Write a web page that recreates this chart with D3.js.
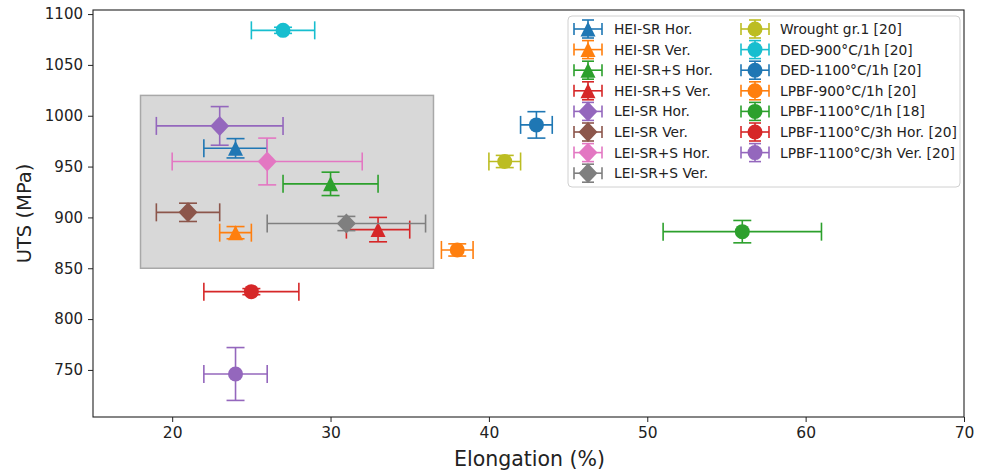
<!DOCTYPE html>
<html><head><meta charset="utf-8">
<script src="https://cdn.jsdelivr.net/npm/d3@7"></script>
<style>body{margin:0;background:#fff}svg{display:block}text{font-family:"DejaVu Sans",sans-serif}</style>
</head><body><svg id="c" width="986" height="473"></svg>
<script>
const labels = ["HEI-SR Hor.","HEI-SR Ver.","HEI-SR+S Hor.","HEI-SR+S Ver.","LEI-SR Hor.","LEI-SR Ver.","LEI-SR+S Hor.","LEI-SR+S Ver.","Wrought gr.1 [20]","DED-900°C/1h [20]","DED-1100°C/1h [20]","LPBF-900°C/1h [20]","LPBF-1100°C/1h [18]","LPBF-1100°C/3h Hor. [20]","LPBF-1100°C/3h Ver. [20]"];
const markers = ["tri","tri","tri","tri","dia","dia","dia","dia","circ","circ","circ","circ","circ","circ","circ"];
const colors = ["#1f77b4","#ff7f0e","#2ca02c","#d62728","#9467bd","#8c564b","#e377c2","#7f7f7f","#bcbd22","#17becf","#1f77b4","#ff7f0e","#2ca02c","#d62728","#9467bd"];
const elong    = [24,24,30,33,23,21,26,31,41,27,43,38,56,25,24];
const elongErr = [2,1,3,2,4,2,6,5,1,2,1,1,5,3,2];
const uts      = [968,885,933,888,990,905,955,894,955,1084,991,868,886,827,746];
const utsErr   = [9.5,6,11.5,12,19,9,23,7,6,3,13,6,11,3,26];
const xTicks = [20,30,40,50,60,70];
const yTicks = [750,800,850,900,950,1000,1050,1100];
const regionX = [18,36.5];
const regionY = [850,1020];

const svg = d3.select("#c");
const L=93,R=964,T=10,B=417;
const x = d3.scaleLinear().domain([15,70]).range([L,R]);
const y = d3.scaleLinear().domain([703.7,1104]).range([B,T]);

svg.append("rect").attr("x",x(regionX[0])).attr("y",y(regionY[1]))
  .attr("width",x(regionX[1])-x(regionX[0])).attr("height",y(regionY[0])-y(regionY[1]))
  .attr("fill","#d8d8d8").attr("stroke","#a8a8a8").attr("stroke-width",1.5);

function drawMarker(g,type,cx,cy,color,s){
  if(type==="tri"){
    g.append("path").attr("d",`M${cx},${cy-s}L${cx+s},${cy+s}L${cx-s},${cy+s}Z`).attr("fill",color);
  } else if(type==="dia"){
    const d=s*1.33;
    g.append("path").attr("d",`M${cx},${cy-d}L${cx+d*0.95},${cy}L${cx},${cy+d}L${cx-d*0.95},${cy}Z`).attr("fill",color);
  } else {
    g.append("circle").attr("cx",cx).attr("cy",cy).attr("r",s).attr("fill",color);
  }
}
const cap=9;
labels.forEach((lab,i)=>{
  const g=svg.append("g");
  const c=colors[i], cx=x(elong[i]), cy=y(uts[i]);
  const x0=x(elong[i]-elongErr[i]), x1=x(elong[i]+elongErr[i]);
  const y0=y(uts[i]-utsErr[i]), y1=y(uts[i]+utsErr[i]);
  const line=(a,b,cc,d)=>g.append("line").attr("x1",a).attr("y1",b).attr("x2",cc).attr("y2",d).attr("stroke",c).attr("stroke-width",1.6);
  line(x0,cy,x1,cy); line(x0,cy-cap,x0,cy+cap); line(x1,cy-cap,x1,cy+cap);
  line(cx,y0,cx,y1); line(cx-cap,y0,cx+cap,y0); line(cx-cap,y1,cx+cap,y1);
  drawMarker(g,markers[i],cx,cy,c,7.5);
});

svg.append("rect").attr("x",L).attr("y",T).attr("width",R-L).attr("height",B-T).attr("fill","none").attr("stroke","#222").attr("stroke-width",1.1);
const xa=svg.append("g").attr("transform",`translate(0,${B})`).call(d3.axisBottom(x).tickValues(xTicks).tickSize(5).tickPadding(5).tickFormat(d3.format("d")));
const ya=svg.append("g").attr("transform",`translate(${L},0)`).call(d3.axisLeft(y).tickValues(yTicks).tickSize(5).tickPadding(5).tickFormat(d3.format("d")));
[xa,ya].forEach(a=>{a.select(".domain").remove();a.selectAll("line").attr("stroke","#222");a.selectAll("text").attr("font-size",15).attr("fill","#222").attr("font-family","DejaVu Sans");});
xa.selectAll("text").attr("font-family","DejaVu Sans Condensed").attr("font-size",15.5);
svg.append("text").attr("x",(L+R)/2+1).attr("y",466).attr("text-anchor","middle").attr("font-size",20.5).attr("fill","#222").attr("font-family","DejaVu Sans Condensed").text("Elongation (%)");
svg.append("text").attr("transform",`translate(31,${(T+B)/2}) rotate(-90)`).attr("text-anchor","middle").attr("font-size",19.5).attr("fill","#222").text("UTS (MPa)");

const lg=svg.append("g");
lg.append("rect").attr("x",568).attr("y",16).attr("width",392).attr("height",171).attr("rx",4).attr("fill","#fff").attr("fill-opacity",0.85).attr("stroke","#d0d0d0");
labels.forEach((lab,i)=>{
  const col=i<8?0:1, row=i<8?i:i-8;
  const hx=col===0?588:755, hy=29+row*20.6;
  const g=lg.append("g"); const c=colors[i];
  const ln=(a,b,cc,d)=>g.append("line").attr("x1",a).attr("y1",b).attr("x2",cc).attr("y2",d).attr("stroke",c).attr("stroke-width",1.6);
  const hw=14,hh=9,cp=6;
  ln(hx-hw,hy,hx+hw,hy); ln(hx-hw,hy-cp,hx-hw,hy+cp); ln(hx+hw,hy-cp,hx+hw,hy+cp);
  ln(hx,hy-hh,hx,hy+hh); ln(hx-cp,hy-hh,hx+cp,hy-hh); ln(hx-cp,hy+hh,hx+cp,hy+hh);
  drawMarker(g,markers[i],hx,hy,c,7.5);
  g.append("text").attr("x",col===0?614:780).attr("y",hy+5).attr("font-size",13.8).attr("fill","#222").text(lab);
});
</script></body></html>
